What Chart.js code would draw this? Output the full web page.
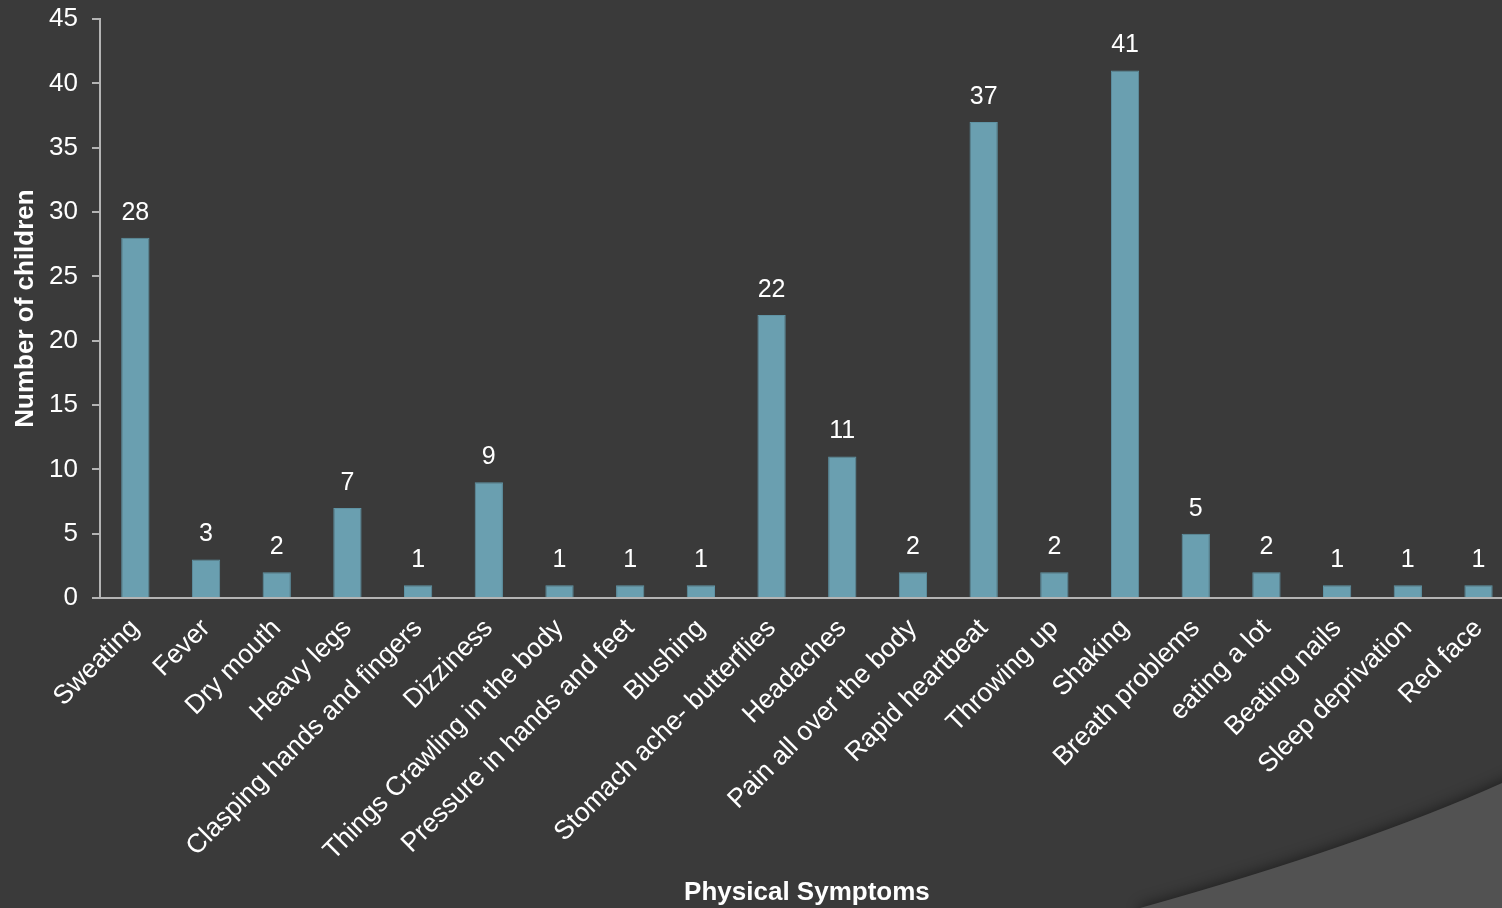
<!DOCTYPE html>
<html>
<head>
<meta charset="utf-8">
<script src="https://cdn.jsdelivr.net/npm/chart.js@4.4.0/dist/chart.umd.min.js"></script>
<style>
  html, body { margin: 0; padding: 0; background: #3a3a3a; overflow: hidden; width: 1502px; height: 908px; }
  canvas { display: block; }
</style>
</head>
<body>
<canvas id="c" width="1516" height="908"></canvas>
<script>
const categories = ["Sweating", "Fever", "Dry mouth", "Heavy legs", "Clasping hands and fingers", "Dizziness",
  "Things Crawling in the body", "Pressure in hands and feet", "Blushing", "Stomach ache- butterflies",
  "Headaches", "Pain all over the body", "Rapid heartbeat", "Throwing up", "Shaking", "Breath problems",
  "eating a lot", "Beating nails", "Sleep deprivation", "Red face"];
const counts = [28, 3, 2, 7, 1, 9, 1, 1, 1, 22, 11, 2, 37, 2, 41, 5, 2, 1, 1, 1];
const yMin = 0, yMax = 45, yStep = 5;
const xTitle = "Physical Symptoms";
const yTitle = "Number of children";

const FONT = "'Liberation Sans', Arial, Helvetica, sans-serif";

const bgPlugin = {
  id: 'bg',
  beforeDraw(chart) {
    const ctx = chart.ctx;
    ctx.save();
    ctx.fillStyle = '#3a3a3a';
    ctx.fillRect(0, 0, chart.width, chart.height);
    ctx.shadowColor = 'rgba(0,0,0,0.45)';
    ctx.shadowBlur = 14;
    ctx.shadowOffsetY = -2;
    ctx.beginPath();
    ctx.moveTo(1140, 908);
    ctx.quadraticCurveTo(1363, 845.6, 1502, 783);
    ctx.lineTo(1530, 771);
    ctx.lineTo(1530, 930);
    ctx.lineTo(1140, 930);
    ctx.closePath();
    ctx.fillStyle = '#525252';
    ctx.fill();
    ctx.restore();
  }
};

const labelPlugin = {
  id: 'vals',
  afterDatasetsDraw(chart) {
    const ctx = chart.ctx;
    const meta = chart.getDatasetMeta(0);
    ctx.save();
    ctx.fillStyle = '#ffffff';
    ctx.font = '25px ' + FONT;
    ctx.textAlign = 'center';
    ctx.textBaseline = 'alphabetic';
    meta.data.forEach((el, i) => {
      ctx.fillText(String(counts[i]), el.x, el.y - 18);
    });
    ctx.restore();
  }
};

new Chart(document.getElementById('c'), {
  type: 'bar',
  data: {
    labels: categories,
    datasets: [{
      data: counts,
      backgroundColor: '#6a9fb0',
      borderColor: '#5f93a4',
      borderWidth: 1,
      barPercentage: 0.4,
      categoryPercentage: 1.0
    }]
  },
  options: {
    responsive: false,
    animation: false,
    devicePixelRatio: 1,
    layout: { padding: { top: 19, right: 0, left: 0, bottom: 0 } },
    plugins: { legend: { display: false }, tooltip: { enabled: false } },
    scales: {
      x: {
        afterFit(scale) { scale.height = 310; },
        grid: { display: false, drawTicks: false },
        border: { display: true, color: '#b4b4b4', width: 2 },
        ticks: {
          color: '#ffffff',
          font: { family: FONT, size: 26.5 },
          minRotation: 45, maxRotation: 45, autoSkip: false, padding: 15
        },
        title: {
          display: true, text: xTitle, color: '#ffffff',
          font: { family: FONT, size: 26, weight: 'bold' },
          padding: { top: 0, bottom: 0 }
        }
      },
      y: {
        min: yMin, max: yMax,
        afterFit(scale) { scale.width = 100; scale.paddingTop = 0; scale.paddingBottom = 0; },
        grid: { display: true, drawOnChartArea: false, drawTicks: true, tickLength: 8, color: '#b4b4b4', lineWidth: 2 },
        border: { display: true, color: '#b4b4b4', width: 2 },
        ticks: {
          stepSize: yStep, color: '#ffffff',
          font: { family: FONT, size: 26 }, padding: 14
        },
        title: {
          display: true, text: yTitle, color: '#ffffff',
          font: { family: FONT, size: 26, weight: 'bold' },
          padding: { top: 10, bottom: 0 }
        }
      }
    }
  },
  plugins: [bgPlugin, labelPlugin]
});
</script>
</body>
</html>
